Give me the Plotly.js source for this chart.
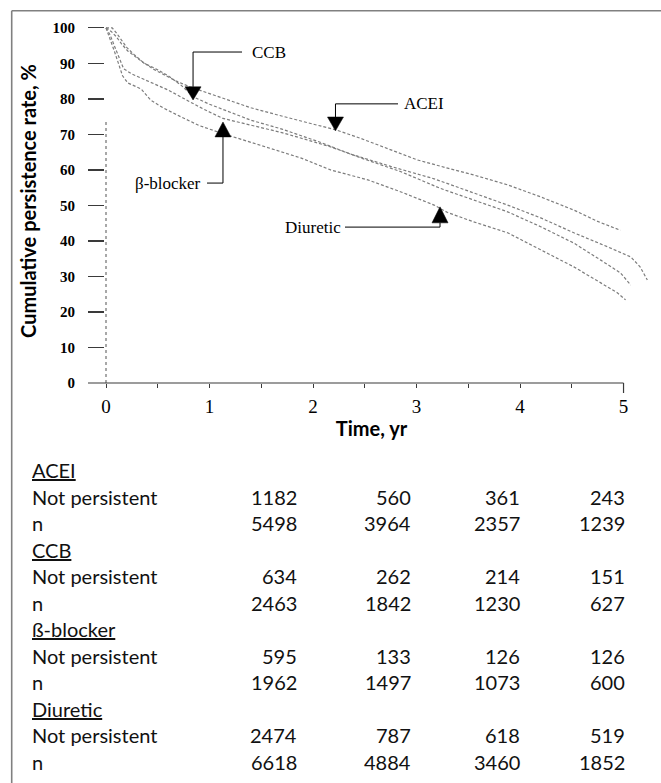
<!DOCTYPE html>
<html>
<head>
<meta charset="utf-8">
<script src="https://cdn.plot.ly/plotly-3.0.1.min.js"></script>
<style>html,body{margin:0;padding:0;background:#fff;}#chart{width:661px;height:783px;}</style>
</head>
<body>
<div id="chart"></div>
<script>
// ---- Kaplan-Meier curves (time in years, cumulative persistence %) ----
const aceiTime = [0, 0.06, 0.1, 0.15, 0.2, 0.27, 0.35, 0.45, 0.55, 0.68, 0.82, 1.0, 1.14, 1.4, 1.72, 2.0, 2.23, 2.45, 2.68, 3.01, 3.3, 3.55, 3.88, 4.2, 4.52, 4.75, 4.97];
const aceiRate = [100, 100, 98.6, 96.5, 94.5, 92.5, 90.5, 88.5, 87, 85, 83.3, 81.5, 80.3, 77.5, 75, 73, 71.2, 69, 66.5, 62.8, 60.5, 58.6, 55.8, 52.4, 48.7, 45.5, 43];

const ccbTime = [0, 0.05, 0.1, 0.15, 0.21, 0.3, 0.37, 0.48, 0.6, 0.72, 0.85, 1.0, 1.13, 1.4, 1.7, 2.05, 2.36, 2.75, 3.17, 3.55, 3.88, 4.2, 4.52, 4.85, 5.07, 5.16, 5.23];
const ccbRate = [100, 99, 97.5, 95.5, 93.5, 91.5, 90, 88.5, 86.5, 84, 80.5, 78.5, 77, 74, 71.5, 68, 64.5, 61, 57.5, 53.5, 50.1, 46.5, 42.3, 38.3, 35.5, 32.7, 29];

const bbTime = [0, 0.04, 0.08, 0.12, 0.17, 0.25, 0.37, 0.48, 0.6, 0.79, 0.95, 1.13, 1.43, 1.7, 1.88, 2.17, 2.5, 2.85, 3.23, 3.55, 3.88, 4.2, 4.52, 4.78, 4.97, 5.07];
const bbRate = [100, 98, 95, 92, 88.5, 87, 85.4, 84, 82.5, 79.5, 77, 74.5, 72.5, 70.5, 69, 66.5, 63, 59.5, 54.8, 51.5, 48.2, 44, 39.4, 34.6, 31, 27.6];

const diuTime = [0, 0.04, 0.08, 0.12, 0.16, 0.21, 0.27, 0.34, 0.43, 0.55, 0.72, 0.9, 1.11, 1.43, 1.65, 1.88, 2.17, 2.53, 2.85, 3.17, 3.3, 3.55, 3.88, 4.2, 4.52, 4.78, 4.94, 5.02];
const diuRate = [100, 97, 93.5, 90, 86.5, 84.5, 83.8, 82.8, 79.7, 77.5, 75, 72.5, 70.4, 67.6, 65.5, 63.4, 60, 57.2, 53.8, 50.1, 48, 45.4, 42.3, 37.5, 32.7, 28.2, 25.4, 23.4];

// dotted drop line at time 0
const baseTime = [0, 0];
const baseRate = [0, 74];

// ---- axis ticks ----
const yTicks = [0, 10, 20, 30, 40, 50, 60, 70, 80, 90, 100];
const xTickVals = [0, 0.5, 1, 1.5, 2, 2.5, 3, 3.5, 4, 4.5, 5];
const xTickText = ['0', '', '1', '', '2', '', '3', '', '4', '', '5'];

// ---- curve labels ----
const curveLabels = ['CCB', 'ACEI', 'β-blocker', 'Diuretic'];

// ---- at-risk table ----
const tableGroups = ['ACEI', 'CCB', 'ß-blocker', 'Diuretic'];
const rowLabels = ['Not persistent', 'n'];
const notPersistent = [
  [1182, 560, 361, 243],
  [634, 262, 214, 151],
  [595, 133, 126, 126],
  [2474, 787, 618, 519]
];
const atRisk = [
  [5498, 3964, 2357, 1239],
  [2463, 1842, 1230, 627],
  [1962, 1497, 1073, 600],
  [6618, 4884, 3460, 1852]
];

// ---------------- layout geometry ----------------
const W = 661, H = 783;
const M = {l: 88, r: 6, t: 19, b: 400};
const xRange = [-0.174, 5.304];
const yRange = [0, 102.5];
const plotW = W - M.l - M.r, plotH = H - M.t - M.b;
const pxX = px => (px - M.l) / plotW;            // pixel -> paper x
const pxY = py => (H - M.b - py) / plotH;        // pixel -> paper y
const dxT = px => px * (xRange[1] - xRange[0]) / plotW; // pixel width -> time units

const curveStyle = {color: '#7d7d7d', width: 1.2, dash: '3px,2px'};
const traces = [
  {x: aceiTime, y: aceiRate, name: 'ACEI'},
  {x: ccbTime, y: ccbRate, name: 'CCB'},
  {x: bbTime, y: bbRate, name: 'β-blocker'},
  {x: diuTime, y: diuRate, name: 'Diuretic'}
].map(t => Object.assign(t, {type: 'scatter', mode: 'lines', line: curveStyle, hoverinfo: 'skip'}));
traces.push({x: baseTime, y: baseRate, type: 'scatter', mode: 'lines', name: 'start',
  line: {color: '#a8a8a8', width: 2, dash: 'dot'}, hoverinfo: 'skip'});

// callouts
const callouts = [
  {tipT: 0.841, tipV: 79.7, baseV: 83.4, elbowV: 93.2, elbowT: 1.314, labelT: 1.39, anchor: 'left'},
  {tipT: 2.217, tipV: 71.0, baseV: 74.9, elbowV: 78.6, elbowT: 2.821, labelT: 2.86, anchor: 'left'},
  {tipT: 1.13, tipV: 73.5, baseV: 69.3, elbowV: 56.3, elbowT: 0.976, labelT: 0.935, anchor: 'right'},
  {tipT: 3.227, tipV: 49.6, baseV: 45.1, elbowV: 43.9, elbowT: 2.309, labelT: 2.285, anchor: 'right'}
];

const shapes = [];
const annotations = [];
const hw = dxT(8);
callouts.forEach((c, i) => {
  shapes.push({type: 'path', xref: 'x', yref: 'y',
    path: `M ${c.tipT - hw},${c.baseV} L ${c.tipT + hw},${c.baseV} L ${c.tipT},${c.tipV} Z`,
    fillcolor: '#000', line: {color: '#000', width: 0.5}});
  shapes.push({type: 'path', xref: 'x', yref: 'y',
    path: `M ${c.tipT},${c.baseV} L ${c.tipT},${c.elbowV} L ${c.elbowT},${c.elbowV}`,
    line: {color: '#000', width: 1}});
  annotations.push({xref: 'x', yref: 'y', x: c.labelT, y: c.elbowV, text: curveLabels[i],
    showarrow: false, xanchor: c.anchor, yanchor: 'middle',
    font: {family: 'Liberation Serif', size: 17, color: '#000'}});
});

// x-axis line and end tick
shapes.push({type: 'line', xref: 'x', yref: 'paper', x0: xRange[0], x1: 5, y0: 0, y1: 0,
  line: {color: '#3a3a3a', width: 1.2}});
shapes.push({type: 'line', xref: 'x', yref: 'paper', x0: 5, x1: 5, y0: 0, y1: -10 / plotH,
  line: {color: '#3a3a3a', width: 1.2}});

// frame
shapes.push({type: 'line', xref: 'paper', yref: 'paper', x0: pxX(11.7), x1: pxX(661), y0: pxY(10.7), y1: pxY(10.7),
  line: {color: '#808080', width: 1.6}});
shapes.push({type: 'line', xref: 'paper', yref: 'paper', x0: pxX(11.7), x1: pxX(11.7), y0: pxY(10.7), y1: pxY(783),
  line: {color: '#808080', width: 1.6}});

// table
const tableFont = {family: 'Lato', size: 20, color: '#111'};
const colRight = [299, 413, 521.5, 627];
const rowTop = 470, rowStep = 26.5;
let r = 0;
tableGroups.forEach((g, gi) => {
  annotations.push({xref: 'paper', yref: 'paper', x: pxX(29.5), y: pxY(rowTop + rowStep * r),
    text: '<u>' + g + '</u>', showarrow: false, xanchor: 'left', yanchor: 'middle', font: tableFont});
  r++;
  [notPersistent[gi], atRisk[gi]].forEach((vals, ri) => {
    const yy = pxY(rowTop + rowStep * r);
    annotations.push({xref: 'paper', yref: 'paper', x: pxX(29.5), y: yy, text: rowLabels[ri],
      showarrow: false, xanchor: 'left', yanchor: 'middle', font: tableFont});
    vals.forEach((v, ci) => {
      annotations.push({xref: 'paper', yref: 'paper', x: pxX(colRight[ci]), y: yy, text: String(v),
        showarrow: false, xanchor: 'right', yanchor: 'middle', font: tableFont});
    });
    r++;
  });
});

const layout = {
  width: W, height: H,
  margin: M,
  paper_bgcolor: '#fff', plot_bgcolor: '#fff',
  showlegend: false,
  xaxis: {
    range: xRange, showgrid: false, zeroline: false, showline: false,
    tickmode: 'array', tickvals: xTickVals, ticktext: xTickText,
    ticks: 'outside', ticklen: 4, tickwidth: 1, tickcolor: '#3a3a3a',
    ticklabelstandoff: 2,
    tickfont: {family: 'Liberation Serif', size: 19, color: '#000'},
    title: {text: 'Time, yr', standoff: 6, font: {family: 'Lato', size: 20, color: '#000', weight: 'bold'}},
    automargin: false
  },
  yaxis: {
    range: yRange, showgrid: false, zeroline: false, showline: false,
    tickmode: 'array', tickvals: yTicks, ticktext: yTicks.map(String),
    ticks: 'inside', ticklen: 16, tickwidth: 1.2, tickcolor: '#3a3a3a',
    ticklabelstandoff: 12,
    tickfont: {family: 'Liberation Serif', size: 15, color: '#000', weight: 'bold'},
    title: {text: 'Cumulative persistence rate, %', standoff: 10, font: {family: 'Lato', size: 20, color: '#000', weight: 'bold'}},
    automargin: false
  },
  shapes: shapes,
  annotations: annotations
};

Plotly.newPlot('chart', traces, layout, {displayModeBar: false, staticPlot: true});
</script>
</body>
</html>
